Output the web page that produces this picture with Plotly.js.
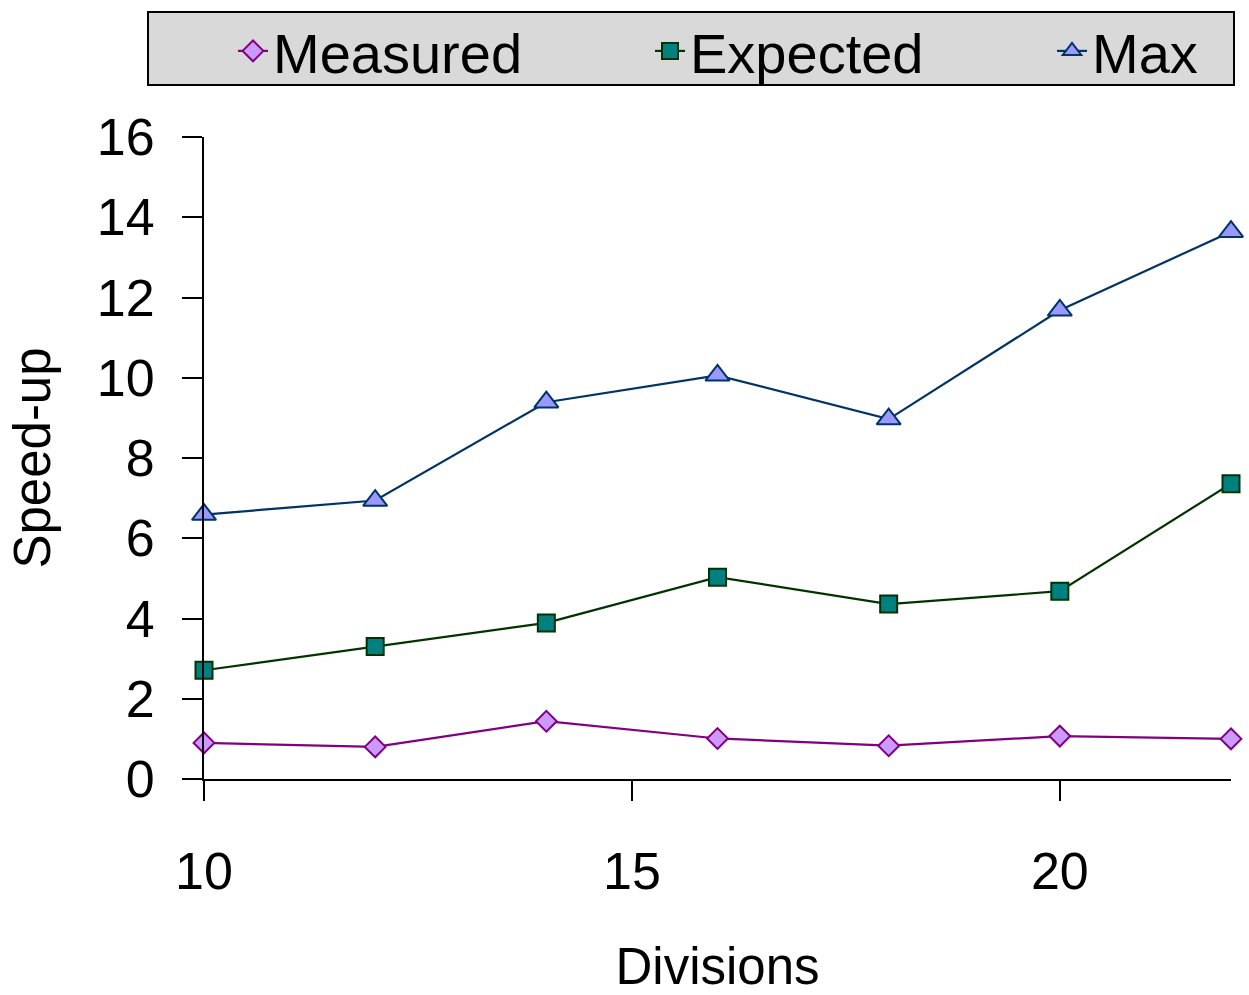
<!DOCTYPE html>
<html>
<head>
<meta charset="utf-8">
<script src="https://cdn.plot.ly/plotly-3.0.1.min.js"></script>
<style>html,body{margin:0;padding:0;background:#fff;}#chart{width:1249px;height:995px;}</style>
</head>
<body>
<div id="chart"></div>
<script>
const divisions = [10, 12, 14, 16, 18, 20, 22];
const measured = [0.90, 0.80, 1.44, 1.01, 0.83, 1.07, 1.00];
const expected = [2.71, 3.30, 3.89, 5.03, 4.36, 4.68, 7.36];
const maxSpeed = [6.59, 6.94, 9.39, 10.06, 8.97, 11.68, 13.64];
const seriesNames = ["Measured", "Expected", "Max"];
const yTicks = [0, 2, 4, 6, 8, 10, 12, 14, 16];
const xTicks = [10, 15, 20];

const FONT = "'Liberation Sans', Arial, sans-serif";

// plot area geometry (pixels)
const W = 1249, H = 995;
const M = {l: 204, r: 18, t: 137, b: 216};
const PW = W - M.l - M.r, PH = H - M.t - M.b;
const px2x = p => (p - M.l) / PW;
const px2y = p => (H - M.b - p) / PH;

const traces = [
  {
    x: divisions, y: measured, name: seriesNames[0], type: "scatter", mode: "lines+markers",
    legend: "legend",
    line: {color: "#800080", width: 2.2},
    marker: {symbol: "diamond", size: 16, color: "#CC99FF", line: {color: "#800080", width: 2}},
    cliponaxis: false
  },
  {
    x: divisions, y: expected, name: seriesNames[1], type: "scatter", mode: "lines+markers",
    legend: "legend2",
    line: {color: "#003300", width: 2.2},
    marker: {symbol: "square", size: 17, color: "#008080", line: {color: "#003300", width: 2}},
    cliponaxis: false
  },
  {
    x: divisions, y: maxSpeed, name: seriesNames[2], type: "scatter", mode: "lines+markers",
    legend: "legend3",
    line: {color: "#003366", width: 2.2},
    marker: {symbol: "triangle-up", size: 21, color: "#9999FF", line: {color: "#003366", width: 2}},
    cliponaxis: false
  }
];

function legendAt(px) {
  return {
    orientation: "h",
    x: px2x(px), y: px2y(51), xanchor: "left", yanchor: "middle",
    bgcolor: "rgba(0,0,0,0)", borderwidth: 0,
    font: {family: FONT, size: 56, color: "#000000"},
    itemwidth: 30
  };
}

const layout = {
  width: W, height: H,
  margin: {l: M.l, r: M.r, t: M.t, b: M.b, autoexpand: false},
  paper_bgcolor: "#ffffff", plot_bgcolor: "#ffffff",
  font: {family: FONT, color: "#000000"},
  showlegend: true,
  legend: legendAt(233),
  legend2: legendAt(650),
  legend3: legendAt(1052),
  shapes: [{
    type: "rect", xref: "paper", yref: "paper",
    x0: px2x(148), x1: px2x(1234), y0: px2y(85), y1: px2y(12),
    fillcolor: "#d9d9d9", line: {color: "#000000", width: 2}, layer: "below"
  }],
  xaxis: {
    range: [10, 22],
    tickvals: xTicks,
    ticktext: xTicks.map(String),
    ticks: "outside", ticklen: 20, tickwidth: 2, tickcolor: "#000",
    showline: true, linecolor: "#000", linewidth: 2,
    showgrid: false, zeroline: false,
    tickfont: {family: FONT, size: 52},
    ticklabelstandoff: 26,
    title: {text: "Divisions", font: {family: FONT, size: 51}, standoff: 50},
    automargin: false
  },
  yaxis: {
    range: [0, 16],
    tickvals: yTicks,
    ticktext: yTicks.map(String),
    ticks: "outside", ticklen: 20, tickwidth: 2, tickcolor: "#000",
    showline: true, linecolor: "#000", linewidth: 2,
    showgrid: false, zeroline: false,
    tickfont: {family: FONT, size: 52},
    ticklabelstandoff: 17,
    title: {text: "Speed-up", font: {family: FONT, size: 51}, standoff: 30},
    automargin: false
  }
};

Plotly.newPlot("chart", traces, layout, {displayModeBar: false, staticPlot: true});
</script>
</body>
</html>
